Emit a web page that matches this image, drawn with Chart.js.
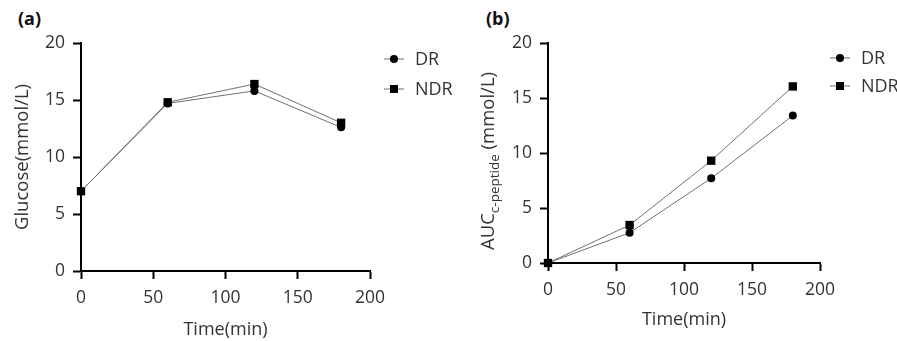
<!DOCTYPE html>
<html>
<head>
<meta charset="utf-8">
<script src="https://cdn.jsdelivr.net/npm/chart.js@4.4.1/dist/chart.umd.min.js"></script>
<style>
    body { margin: 0; background: #fff; width: 897px; height: 341px; overflow: hidden; position: relative; font-family: 'Open Sans', sans-serif; }
    canvas { position: absolute; top: 0; }
    .tag { position: absolute; top: 6px; font-weight: bold; font-size: 18px; color: #111; line-height: 24px; }
</style>
</head>
<body>
<div class="tag" style="left:18px">(a)</div>
<div class="tag" style="left:486px">(b)</div>
<canvas id="chartA" width="470" height="341" style="left:0"></canvas>
<canvas id="chartB" width="449" height="341" style="left:448px"></canvas>
<script>
// data
const timePoints  = [0, 60, 120, 180]
const glucoseDR   = [7.0, 14.7, 15.8, 12.6]
const glucoseNDR  = [7.0, 14.8, 16.4, 13.0]
const aucDR       = [0, 2.75, 7.7, 13.4]
const aucNDR      = [0, 3.45, 9.3, 16.05]
const xTicks      = [0, 50, 100, 150, 200]
const yTicks      = [0, 5, 10, 15, 20]
const seriesNames = ['DR', 'NDR']
const xTitle      = 'Time(min)'

const FONT = "'Open Sans', sans-serif"
const TEXT = '#333'
const LINE = '#707070'

// legend + rotated y title drawn by hand (the subscript needs it)
const panelExtras = {
    id: 'panelExtras',
    afterDraw(chart, args, opts) {
        const ctx = chart.ctx
        ctx.save()
        chart.data.datasets.forEach((ds, i) => {
            const x = opts.legendX
            const y = opts.legendY + i * opts.legendGap
            ctx.strokeStyle = LINE
            ctx.lineWidth = 1
            ctx.beginPath()
            ctx.moveTo(x - 10, y)
            ctx.lineTo(x + 10, y)
            ctx.stroke()
            ctx.fillStyle = '#000'
            if (ds.pointStyle === 'rect') {
                ctx.fillRect(x - 4, y - 4, 8, 8)
            } else {
                ctx.beginPath()
                ctx.arc(x, y, 4, 0, Math.PI * 2)
                ctx.fill()
            }
            ctx.fillStyle = TEXT
            ctx.font = `18px ${FONT}`
            ctx.textAlign = 'left'
            ctx.textBaseline = 'middle'
            ctx.fillText(ds.label, x + 21, y + 1)
        })

        // y title
        ctx.translate(opts.titleX, opts.titleY)
        ctx.rotate(-Math.PI / 2)
        ctx.textBaseline = 'middle'
        ctx.textAlign = 'left'
        const parts = opts.titleParts
        let total = 0
        parts.forEach(p => {
            ctx.font = `${p.sub ? 13.5 : 18.5}px ${FONT}`
            p.w = ctx.measureText(p.text).width
            total += p.w
        })
        let cx = -total / 2
        parts.forEach(p => {
            ctx.font = `${p.sub ? 13.5 : 18.5}px ${FONT}`
            ctx.fillStyle = TEXT
            ctx.fillText(p.text, cx, p.sub ? 6 : 0)
            cx += p.w
        })
        ctx.restore()
    }
}

function makeDatasets(dr, ndr) {
    const base = {
        borderColor: LINE,
        borderWidth: 1,
        pointBackgroundColor: '#000',
        pointBorderColor: '#000',
        pointBorderWidth: 0,
        tension: 0,
        clip: false,
    }
    return [
        { ...base, label: seriesNames[0], data: timePoints.map((t, i) => ({ x: t, y: dr[i] })), pointStyle: 'circle', pointRadius: 4 },
        { ...base, label: seriesNames[1], data: timePoints.map((t, i) => ({ x: t, y: ndr[i] })), pointStyle: 'rect', pointRadius: 5.9 },
    ]
}

function makeChart(id, dr, ndr, cfg) {
    return new Chart(document.getElementById(id), {
        type: 'line',
        data: { datasets: makeDatasets(dr, ndr) },
        options: {
            responsive: false,
            animation: false,
            layout: { padding: { top: cfg.top, right: cfg.right, left: 0, bottom: 0 } },
            plugins: {
                legend: { display: false },
                tooltip: { enabled: false },
                panelExtras: cfg.extras,
            },
            scales: {
                x: {
                    type: 'linear',
                    min: xTicks[0],
                    max: xTicks[xTicks.length - 1],
                    afterBuildTicks: s => { s.ticks = xTicks.map(v => ({ value: v })) },
                    afterFit: s => { s.height = cfg.xHeight },
                    border: { display: true, color: '#000', width: 2 },
                    grid: { drawOnChartArea: false, tickLength: 8, tickColor: '#000', tickWidth: 2 },
                    ticks: { color: TEXT, font: { family: FONT, size: 17.5 }, padding: 9, maxRotation: 0 },
                    title: { display: true, text: xTitle, color: TEXT, font: { family: FONT, size: 18 }, padding: { top: 0, bottom: cfg.xTitlePad } },
                },
                y: {
                    min: yTicks[0],
                    max: yTicks[yTicks.length - 1],
                    afterBuildTicks: s => { s.ticks = yTicks.map(v => ({ value: v })) },
                    afterFit: s => { s.width = cfg.yWidth },
                    border: { display: true, color: '#000', width: 2 },
                    grid: { drawOnChartArea: false, tickLength: 8, tickColor: '#000', tickWidth: 2 },
                    ticks: { color: TEXT, font: { family: FONT, size: 17.5 }, padding: 8 },
                },
            },
        },
        plugins: [panelExtras],
    })
}

makeChart('chartA', glucoseDR, glucoseNDR, {
    top: 43, right: 100, xHeight: 70, yWidth: 81, xTitlePad: 0,
    extras: {
        legendX: 394, legendY: 59, legendGap: 30,
        titleX: 23, titleY: 157,
        titleParts: [{ text: 'Glucose(mmol/L)' }],
    },
})

makeChart('chartB', aucDR, aucNDR, {
    top: 43, right: 77, xHeight: 78, yWidth: 100, xTitlePad: 10,
    extras: {
        legendX: 392, legendY: 58, legendGap: 28,
        titleX: 41, titleY: 161,
        titleParts: [{ text: 'AUC' }, { text: 'c-peptide', sub: true }, { text: ' (mmol/L)' }],
    },
})
</script>
</body>
</html>
